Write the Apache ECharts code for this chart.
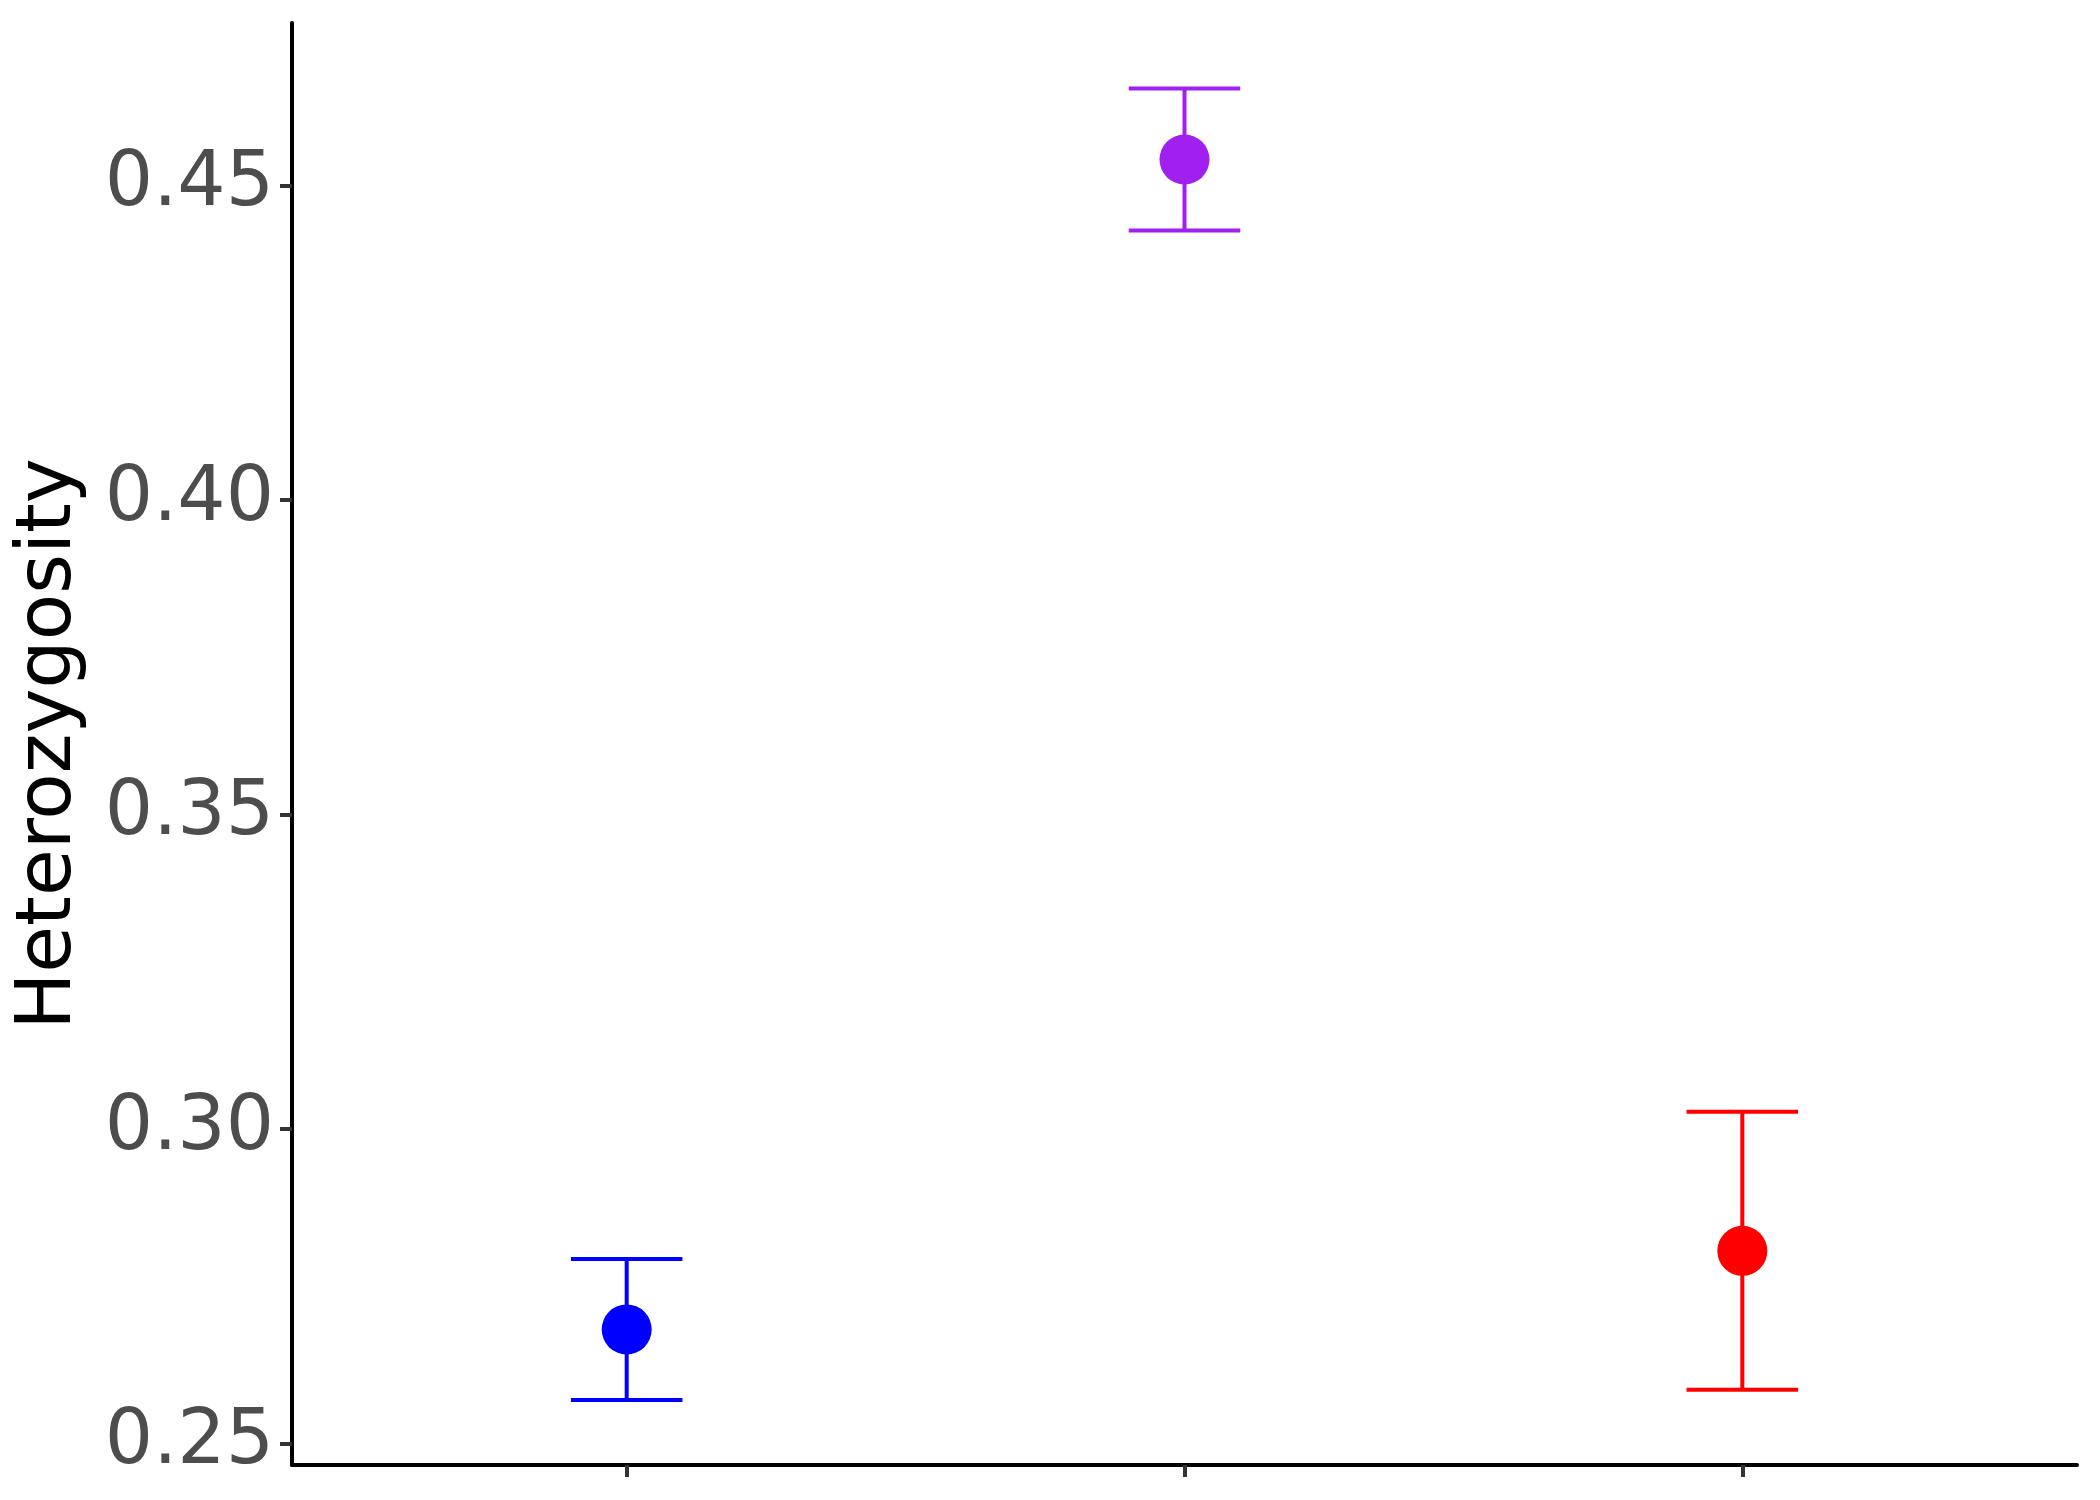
<!DOCTYPE html>
<html>
<head>
<meta charset="utf-8">
<script src="https://cdn.jsdelivr.net/npm/echarts@6/dist/echarts.min.js"></script>
<style>html,body{margin:0;padding:0;background:#fff;}#c{width:2100px;height:1500px;}</style>
</head>
<body>
<div id="c"></div>
<script>
// Data
const categories = ['Group 1', 'Group 2', 'Group 3'];
const categoryPos = [1, 2, 3];
const means = [0.2681, 0.4541, 0.2806];
const lowers = [0.2569, 0.4428, 0.2585];
const uppers = [0.2793, 0.4654, 0.3027];
const colors = ['#0000FF', '#A020F0', '#FF0000'];
const yTicks = [0.25, 0.30, 0.35, 0.40, 0.45];

const chart = echarts.init(document.getElementById('c'), null, {renderer: 'canvas'});
const font = 'DejaVu Sans';

const pointData = categoryPos.map((x, i) => ({
  value: [x, means[i]],
  name: categories[i],
  itemStyle: {color: colors[i], opacity: 1}
}));
const errData = categoryPos.map((x, i) => [x, lowers[i], uppers[i], i]);

chart.setOption({
  animation: false,
  backgroundColor: '#ffffff',
  grid: {left: 292, right: 23, top: 23, bottom: 35, containLabel: false},
  xAxis: {
    type: 'value', min: 0.4, max: 3.6,
    axisLine: {show: true, lineStyle: {color: '#000', width: 4}},
    axisTick: {show: true, customValues: categoryPos, length: 12, lineStyle: {color: '#333', width: 4}},
    axisLabel: {show: false, customValues: categoryPos},
    splitLine: {show: false}
  },
  yAxis: {
    type: 'value', min: 0.24655, max: 0.4758,
    name: 'Heterozygosity', nameLocation: 'middle', nameGap: 204,
    nameTextStyle: {fontFamily: font, fontSize: 76, color: '#000'},
    axisLine: {show: true, lineStyle: {color: '#000', width: 4}},
    axisTick: {show: true, customValues: yTicks, length: 12, lineStyle: {color: '#333', width: 4}},
    axisLabel: {show: true, customValues: yTicks, margin: 18, fontFamily: font, fontSize: 76, color: '#4D4D4D',
      formatter: v => Number(v).toFixed(2)},
    splitLine: {show: false}
  },
  series: [
    {
      type: 'custom',
      data: errData,
      z: 2,
      renderItem: function (params, api) {
        const x = api.value(0);
        const lo = api.coord([x, api.value(1)]);
        const hi = api.coord([x, api.value(2)]);
        const half = api.size([0.2, 0])[0] / 2;
        const c = colors[api.value(3)];
        const style = {stroke: c, lineWidth: 4};
        return {
          type: 'group',
          children: [
            {type: 'line', shape: {x1: lo[0], y1: lo[1], x2: hi[0], y2: hi[1]}, style: style},
            {type: 'line', shape: {x1: lo[0] - half, y1: lo[1], x2: lo[0] + half, y2: lo[1]}, style: style},
            {type: 'line', shape: {x1: hi[0] - half, y1: hi[1], x2: hi[0] + half, y2: hi[1]}, style: style}
          ]
        };
      }
    },
    {
      type: 'scatter',
      data: pointData,
      symbol: 'circle',
      symbolSize: 50,
      itemStyle: {opacity: 1},
      z: 3
    }
  ]
});
</script>
</body>
</html>
